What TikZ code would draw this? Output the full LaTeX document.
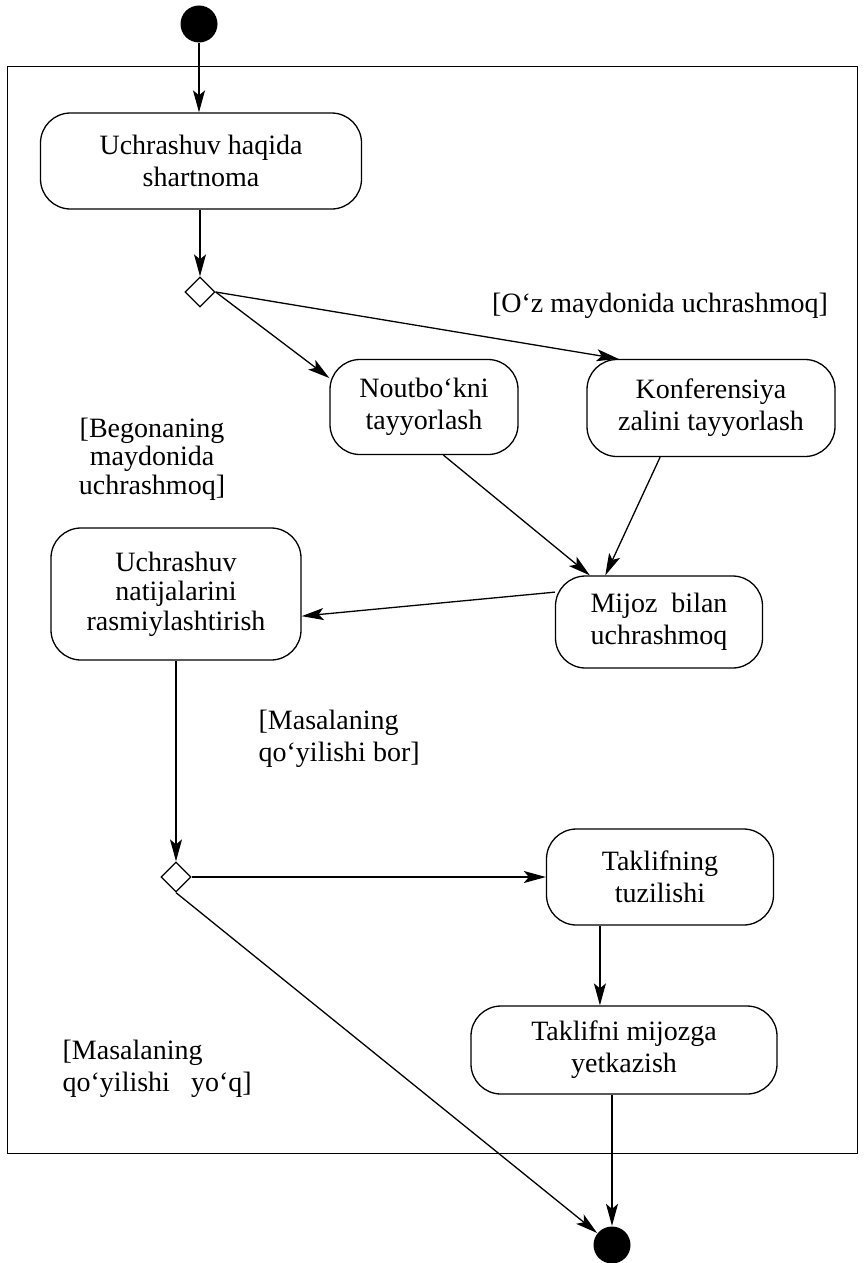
\documentclass[tikz,border=0pt]{standalone}
\usepackage{fontspec}
\setmainfont{Liberation Serif}
\usetikzlibrary{arrows.meta,shapes.geometric}
\begin{document}
\begin{tikzpicture}[x=1pt,y=-1pt,
  line width=1.3pt,
  every node/.style={font=\fontsize{28}{32}\selectfont},
  activity/.style={draw,rounded corners=30pt,align=center,inner sep=0pt},
  decision/.style={draw,diamond,minimum width=30pt,minimum height=30pt,inner sep=0pt},
  terminal/.style={circle,fill=black,minimum size=37pt,inner sep=0pt},
  guard/.style={align=left,inner sep=0pt},
  arr/.style={-{Stealth[length=22pt,width=12pt,inset=5pt]}}]
\useasboundingbox (0,0) rectangle (863,1263);

% outer frame
\draw[line width=1pt] (7,67) rectangle (857,1153);

% start / end
\node[terminal] (start) at (199,24) {};
\node[terminal] (fin) at (612,1245) {};

% activities
\node[activity,minimum width=321pt,minimum height=96pt] (deal) at (201,161)
  {Uchrashuv haqida\\shartnoma};
\node[activity,minimum width=188pt,minimum height=95pt] (note) at (424,407)
  {Noutbo‘kni\\tayyorlash};
\node[activity,minimum width=248pt,minimum height=97pt] (conf) at (711,408)
  {Konferensiya\\zalini tayyorlash};
\node[activity,minimum width=250pt,minimum height=132pt,
  font=\fontsize{28}{29.5}\selectfont] (res) at (176,594)
  {Uchrashuv\\natijalarini\\rasmiylashtirish};
\node[activity,minimum width=207pt,minimum height=92pt] (meet) at (659,622)
  {Mijoz\ \ bilan\\uchrashmoq};
\node[activity,minimum width=227pt,minimum height=96pt] (offer) at (660,877)
  {Taklifning\\tuzilishi};
\node[activity,minimum width=306pt,minimum height=88pt] (send) at (624,1050)
  {Taklifni mijozga\\yetkazish};

% decisions
\node[decision] (d1) at (200,292) {};
\node[decision] (d2) at (176,877) {};

% guards
\node[inner sep=0pt] (g1) at (660,306) {[O‘z maydonida uchrashmoq]};
\node[align=center,inner sep=0pt,font=\fontsize{28}{28.5}\selectfont] (g2) at (152,459)
  {[Begonaning\\maydonida\\uchrashmoq]};
\node[guard,anchor=west] (g3) at (258,739) {[Masalaning\\qo‘yilishi bor]};
\node[guard,anchor=west] (g4) at (62,1069) {[Masalaning\\qo‘yilishi\ \ \ yo‘q]};

% flows
\draw[arr] (start) -- (start |- deal.north);
\draw[arr] (deal.south -| d1.north) -- (d1.north);
\draw[arr] (d1.east) -- (note.163);
\draw[arr] (d1.east) -- (conf.152);
\draw[arr] (note.-68) -- (meet.146);
\draw[arr] (conf.-136) -- (meet.139);
\draw[arr] (meet.164) -- (res.-10);
\draw[arr] (res.south) -- (d2.north);
\draw[arr] (d2.east) -- (offer.west);
\draw[arr] (offer.-141) -- (offer.-141 |- send.north);
\draw[arr] (send.south -| fin.north) -- (fin.north);
\draw[arr] (d2.south) -- (fin);
\end{tikzpicture}
\end{document}
